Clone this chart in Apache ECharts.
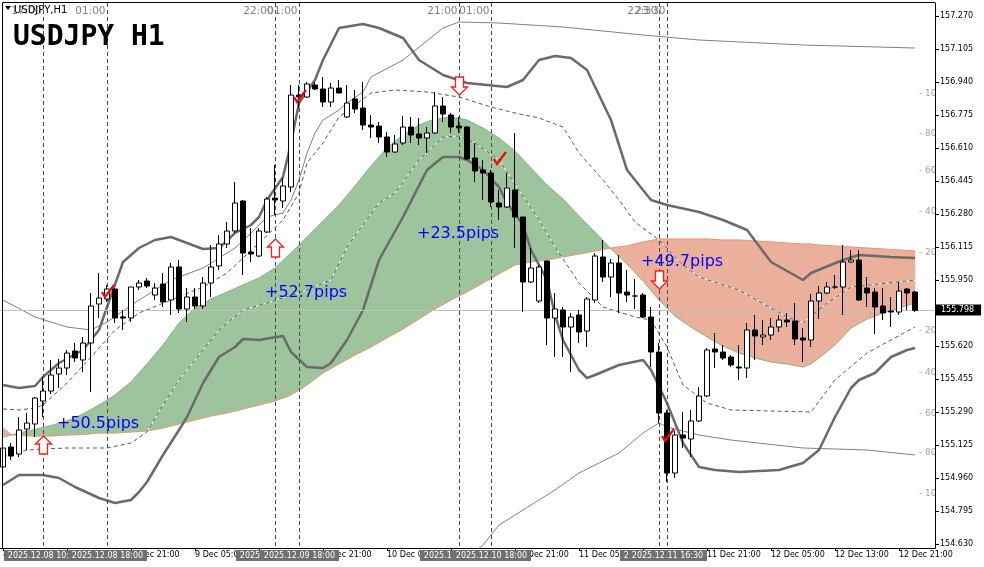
<!DOCTYPE html>
<html><head><meta charset="utf-8">
<script src="https://cdn.jsdelivr.net/npm/echarts@6/dist/echarts.min.js"></script>
<style>html,body{margin:0;padding:0;background:#fff;}#c{width:984px;height:567px;}</style>
</head><body><div id="c"></div>
<script>
// ---------- DATA ----------
const openP = [155.015,155.115,155.080,155.205,155.230,155.345,155.395,155.480,155.510,155.595,
155.550,155.635,155.830,155.855,155.905,155.765,155.760,155.915,155.945,155.875,
155.930,155.850,156.015,155.805,155.865,155.820,155.935,156.020,156.130,156.195,
156.345,156.090,156.070,156.190,156.360,156.345,156.415,156.875,156.865,156.925,
156.905,156.840,156.910,156.765,156.855,156.810,156.725,156.720,156.665,156.590,
156.635,156.715,156.680,156.660,156.685,156.820,156.775,156.720,156.715,156.560,
156.500,156.485,156.335,156.315,156.400,156.265,155.940,155.845,156.045,155.760,
155.800,155.715,155.775,155.695,155.850,156.065,155.965,156.035,155.890,155.870,
155.875,155.765,155.590,155.285,154.985,155.175,155.155,155.245,155.370,155.605,
155.590,155.565,155.515,155.510,155.700,155.665,155.675,155.715,155.750,155.745,
155.660,155.650,155.845,155.885,155.915,155.915,156.040,156.050,155.910,155.890,
155.820,155.795,155.790,155.905,155.890];
const closeP = [155.110,155.070,155.200,155.235,155.360,155.395,155.475,155.510,155.585,155.560,
155.635,155.820,155.860,155.905,155.760,155.760,155.915,155.935,155.920,155.910,
155.840,156.015,155.805,155.865,155.820,155.935,156.015,156.130,156.195,156.335,
156.085,156.080,156.195,156.355,156.350,156.420,156.875,156.865,156.930,156.905,
156.840,156.910,156.885,156.835,156.805,156.725,156.715,156.665,156.590,156.630,
156.715,156.675,156.660,156.685,156.820,156.780,156.715,156.710,156.555,156.495,
156.485,156.340,156.315,156.410,156.265,155.940,156.010,156.015,155.760,155.805,
155.715,155.765,155.690,155.855,156.070,155.965,156.035,155.885,155.875,155.870,
155.765,155.590,155.285,154.985,155.175,155.160,155.245,155.370,155.600,155.590,
155.560,155.525,155.510,155.700,155.670,155.675,155.715,155.750,155.740,155.655,
155.650,155.845,155.885,155.915,155.915,156.040,156.050,155.850,155.885,155.815,
155.785,155.790,155.895,155.885,155.798];
const lowP = [154.975,155.050,155.065,155.100,155.165,155.265,155.380,155.410,155.475,155.540,
155.490,155.390,155.760,155.840,155.735,155.700,155.740,155.900,155.910,155.850,
155.815,155.775,155.785,155.740,155.805,155.805,155.865,156.000,156.110,156.185,
155.975,156.040,156.065,156.185,156.275,156.310,156.390,156.810,156.860,156.900,
156.815,156.815,156.885,156.760,156.785,156.700,156.660,156.635,156.565,156.585,
156.625,156.635,156.625,156.585,156.680,156.740,156.685,156.685,156.550,156.440,
156.350,156.315,156.250,156.310,156.110,155.790,155.935,155.835,155.625,155.565,
155.565,155.490,155.635,155.615,155.835,155.940,155.865,155.785,155.840,155.805,
155.760,155.515,155.235,154.940,154.960,155.110,155.065,155.240,155.365,155.510,
155.550,155.515,155.450,155.460,155.550,155.625,155.650,155.690,155.715,155.625,
155.540,155.615,155.755,155.880,155.905,155.775,156.035,155.845,155.815,155.680,
155.750,155.715,155.775,155.800,155.790];
const highP = [155.125,155.135,155.265,155.285,155.365,155.465,155.550,155.555,155.600,155.635,
155.665,155.885,155.985,155.925,155.910,155.800,155.915,155.950,155.960,155.935,
155.985,156.035,156.050,155.910,155.910,155.965,156.125,156.175,156.240,156.440,
156.350,156.210,156.210,156.365,156.525,156.460,156.925,156.925,156.940,156.940,
156.965,156.935,156.950,156.925,156.900,156.940,156.775,156.740,156.690,156.675,
156.770,156.765,156.760,156.715,156.890,156.865,156.785,156.765,156.720,156.635,
156.550,156.500,156.400,156.485,156.685,156.265,156.110,156.025,156.045,155.885,
155.815,155.785,155.800,155.865,156.085,156.150,156.055,156.075,156.000,155.955,
155.885,155.815,155.635,155.300,155.195,155.290,155.300,155.415,155.610,155.685,
155.625,155.575,155.625,155.735,155.775,155.750,155.760,155.775,155.785,155.835,
155.710,155.880,155.920,155.940,155.975,156.125,156.100,156.100,155.965,155.910,
155.910,155.865,155.940,155.910,155.895];

// band lines: [bar index, price]
const bandUpper = [[0,155.425],[2,155.410],[4,155.420],[5,155.465],[7,155.535],[10,155.600],[12,155.700],[13,155.815],[15,156.040],[17,156.110],[19,156.150],[21,156.165],[23,156.135],[25,156.105],[27,156.110],[29,156.185],[31,156.225],[32,156.265],[33,156.350],[35,156.465],[36,156.635],[37,156.835],[39,156.950],[40,157.050],[42,157.210],[45,157.230],[47,157.210],[50,157.160],[52,157.050],[55,156.975],[58,156.935],[63,156.915],[65,156.950],[67,157.050],[69,157.070],[71,157.060],[73,157.000],[76,156.750],[78,156.500],[81,156.350],[83,156.325],[87,156.290],[90,156.250],[93,156.200],[96,156.040],[100,155.950],[101,155.985],[105,156.050],[107,156.075],[111,156.065],[114,156.060]];
const bandLower = [[0,154.925],[2,154.975],[5,154.975],[7,154.960],[9,154.915],[12,154.860],[14,154.835],[16,154.850],[17,154.890],[18,154.940],[20,155.075],[22,155.200],[23,155.265],[25,155.435],[27,155.565],[29,155.615],[30,155.655],[32,155.650],[35,155.670],[36,155.590],[38,155.515],[40,155.510],[41,155.535],[43,155.650],[45,155.800],[47,156.050],[50,156.265],[53,156.500],[55,156.565],[57,156.565],[58,156.550],[60,156.500],[62,156.415],[63,156.335],[65,156.225],[66,156.100],[68,155.950],[69,155.775],[70,155.650],[72,155.500],[73,155.460],[74,155.475],[77,155.525],[80,155.550],[81,155.500],[83,155.335],[85,155.135],[87,155.015],[89,155.000],[92,154.990],[97,155.000],[100,155.035],[102,155.100],[104,155.265],[106,155.410],[107,155.450],[109,155.485],[111,155.565],[113,155.600],[114,155.610]];
const outerUpper = [[0,155.850],[4,155.765],[8,155.715],[11,155.700],[13,155.740],[17,155.850],[21,155.950],[25,156.010],[29,156.110],[31,156.185],[33,156.265],[35,156.285],[36,156.350],[37,156.450],[38,156.585],[39,156.685],[40,156.750],[42,156.800],[43,156.835],[45,156.890],[46,156.965],[50,157.050],[55,157.210],[57,157.240],[62,157.235],[70,157.215],[80,157.175],[87,157.150],[100,157.125],[114,157.110]];
const outerLower = [[55,154.450],[60,154.625],[62,154.725],[66,154.825],[69,154.900],[72,154.985],[77,155.085],[80,155.185],[82,155.235],[83,155.215],[87,155.175],[91,155.150],[100,155.110],[108,155.100],[114,155.075]];
const devUpper = [[0,155.305],[2,155.300],[4,155.310],[5,155.325],[8,155.435],[11,155.565],[14,155.700],[17,155.785],[21,155.850],[25,155.915],[28,155.985],[30,156.060],[32,156.135],[35,156.250],[37,156.385],[38,156.535],[40,156.635],[42,156.765],[46,156.885],[49,156.900],[53,156.890],[57,156.865],[61,156.815],[64,156.785],[67,156.760],[70,156.715],[72,156.585],[75,156.450],[77,156.350],[79,156.240],[82,156.150],[85,156.025],[87,155.965],[92,155.900],[98,155.765],[100,155.735],[103,155.835],[106,155.915],[114,155.950]];
const devLower = [[0,155.065],[3,155.100],[5,155.105],[8,155.110],[13,155.110],[16,155.135],[18,155.190],[20,155.325],[22,155.450],[25,155.600],[27,155.700],[30,155.800],[33,155.835],[37,155.885],[41,155.950],[43,156.115],[47,156.335],[49,156.385],[52,156.550],[55,156.665],[57,156.670],[59,156.635],[62,156.550],[67,156.250],[69,156.115],[72,155.935],[75,155.815],[79,155.765],[81,155.750],[83,155.615],[85,155.425],[88,155.335],[91,155.300],[101,155.290],[104,155.450],[108,155.585],[114,155.715]];

// cloud (span A / span B) read at common bars
const cloudIdx = [0,1,2,4,6,8,10,12,14,16,18,20,22,24,26,28,30,32,34,36,38,40,42,44,46,48,50,52,54,56,58,60,62,64,66,68,70,72,74,76,78,80,82,84,86,88,90,92,94,96,98,100,101,102,104,106,108,110,112,114];
const spanA = [155.165,155.175,155.185,155.2025,155.2225,155.245,155.280,155.325,155.375,155.440,155.530,155.625,155.735,155.810,155.855,155.890,155.925,155.960,156.010,156.085,156.165,156.245,156.325,156.420,156.520,156.610,156.675,156.725,156.755,156.765,156.750,156.710,156.660,156.595,156.510,156.425,156.355,156.270,156.190,156.105,156.030,155.945,155.850,155.770,155.715,155.665,155.620,155.585,155.560,155.540,155.530,155.515,155.530,155.560,155.625,155.710,155.755,155.785,155.810,155.835];
const spanB = [155.210,155.177,155.1725,155.170,155.170,155.175,155.1775,155.185,155.185,155.190,155.195,155.210,155.230,155.250,155.270,155.285,155.305,155.325,155.345,155.375,155.425,155.485,155.530,155.575,155.615,155.660,155.705,155.755,155.805,155.850,155.890,155.935,155.980,156.025,156.040,156.050,156.065,156.080,156.095,156.110,156.120,156.140,156.155,156.155,156.155,156.155,156.150,156.150,156.145,156.140,156.135,156.130,156.130,156.125,156.120,156.115,156.110,156.105,156.100,156.095];

// vertical lines
const vIdx = [5,13,34,37,57,61,82,83];
const vTop = ['17:00','01:00','22:00','01:00','21:00','01:00','22:30','23:30'];
const vBottom = ['2025.12.08 10:00','2025.12.08 18:00','2025.12.09 15:00','2025.12.09 18:00','2025.12.10 14:00','2025.12.10 18:00','2025.12.11 15:30','2025.12.11 16:30'];

// markers
const arrows = [[5,155.170,1],[34,156.155,1],[57,156.875,-1],[82,155.905,-1]];
const checks = [[13,155.890],[37,156.865],[62,156.555],[83,155.170]];
const pipLabels = ['+50.5pips','+52.7pips','+23.5pips','+49.7pips'];
const pipPos = [[7,155.230],[33,155.885],[52,156.180],[80,156.040]];
const sideText = ['10','80','60','40','20','20','40','60','80','10'];
const sidePrice = [156.880,156.680,156.495,156.290,156.085,155.695,155.485,155.280,155.085,154.880];

const yTicks = [154.630,154.795,154.960,155.125,155.290,155.455,155.620,155.950,156.115,156.280,156.445,156.610,156.775,156.940,157.105,157.270];
const xTickIdx = [0,8,16,24,32,40,48,56,64,72,80,88,96,104,112];
const lastPrice = 155.798;

// hourly categories (8 Dec 05:00 onward) + 2 empty slots of right shift
const categories = [];
for (let i = 0; i < 117; i++) { const h = 5 + i; categories.push((8 + Math.floor(h / 24)) + ' Dec ' + String(h % 24).padStart(2, '0') + ':00'); }

// ---------- CHART ----------
const GREEN = '#9dc49d', SALMON = '#ebb09b';
const candleData = openP.map((o, i) => [o, closeP[i], lowP[i], highP[i]]);
const cloudData = [];
for (let k = 0; k < cloudIdx.length - 1; k++) cloudData.push([cloudIdx[k], spanA[k], spanB[k], cloudIdx[k+1], spanA[k+1], spanB[k+1]]);

function cloudRender(params, api) {
  const i0 = api.value(0), a0 = api.value(1), b0 = api.value(2), i1 = api.value(3), a1 = api.value(4), b1 = api.value(5);
  const A0 = api.coord([i0, a0]), B0 = api.coord([i0, b0]), A1 = api.coord([i1, a1]), B1 = api.coord([i1, b1]);
  const d0 = a0 - b0, d1 = a1 - b1;
  const poly = (pts, c) => ({ type: 'polygon', shape: { points: pts }, style: { fill: c, stroke: c, lineWidth: 0.6 } });
  if (d0 * d1 >= 0) return poly([A0, A1, B1, B0], (d0 + d1) >= 0 ? GREEN : SALMON);
  const t = d0 / (d0 - d1);
  const C = [A0[0] + (A1[0] - A0[0]) * t, A0[1] + (A1[1] - A0[1]) * t];
  return { type: 'group', children: [poly([A0, C, B0], d0 > 0 ? GREEN : SALMON), poly([C, A1, B1], d1 > 0 ? GREEN : SALMON)] };
}
function vlineRender(params, api) {
  const k = params.dataIndex, cs = params.coordSys;
  const x = Math.round(api.coord([api.value(0), 155])[0]) + 0.5;
  const yb = cs.y + cs.height;
  return { type: 'group', children: [
    { type: 'line', shape: { x1: x, y1: cs.y, x2: x, y2: yb }, style: { stroke: '#4a4a4a', lineWidth: 1, lineDash: [4, 3] } },
    { type: 'text', x: x - 2, y: cs.y + 8, style: { text: vTop[k], fill: '#808080', font: '10.5px "DejaVu Sans"', align: 'right', verticalAlign: 'middle' } },
    { type: 'rect', shape: { x: x - 39.5, y: yb + 2, width: 79, height: 11 }, style: { fill: '#707070' } },
    { type: 'text', x: x, y: yb + 7.5, style: { text: vBottom[k], fill: '#ffffff', font: '8px "DejaVu Sans"', align: 'center', verticalAlign: 'middle' } }
  ]};
}
function arrowRender(params, api) {
  const p = api.coord([api.value(0), api.value(1)]), s = api.value(2);
  const x = Math.round(p[0]) + 0.5, y = p[1];
  const pts = [[0,0],[8,8],[4,8],[4,18],[-4,18],[-4,8],[-8,8]].map(q => [x + q[0], y + q[1] * s]);
  return { type: 'polygon', shape: { points: pts }, style: { fill: '#ffffff', stroke: '#ff1a1a', lineWidth: 1.3 } };
}
function checkRender(params, api) {
  const p = api.coord([api.value(0), api.value(1)]);
  return { type: 'polyline', shape: { points: [[p[0]-5, p[1]], [p[0]-2, p[1]+5], [p[0]+7, p[1]-7]] }, style: { stroke: '#ff0000', lineWidth: 2.2, fill: null } };
}
function pipRender(params, api) {
  const p = api.coord([api.value(0), api.value(1)]);
  return { type: 'text', x: p[0] - 2, y: p[1], style: { text: pipLabels[params.dataIndex], fill: '#0000ff', font: '16px "DejaVu Sans"', align: 'left', verticalAlign: 'middle' } };
}
function sideRender(params, api) {
  const cs = params.coordSys, p = api.coord([0, api.value(1)]);
  return { type: 'text', x: cs.x + cs.width - 16, y: p[1], style: { text: '- ' + sideText[params.dataIndex], fill: '#a0a0a0', font: '9px "DejaVu Sans"', align: 'left', verticalAlign: 'middle' } };
}
const lineS = (data, color, width, type, z) => ({ type: 'line', data: data, symbol: 'none', silent: true, z: z, lineStyle: { color: color, width: width, type: type }, emphasis: { disabled: true } });

const chart = echarts.init(document.getElementById('c'), null, { renderer: 'canvas', width: 984, height: 567 });
chart.setOption({
  animation: false,
  backgroundColor: '#ffffff',
  grid: { left: -1, right: 49, top: 3, bottom: 19, containLabel: false, outerBoundsMode: 'none' },
  xAxis: {
    type: 'category', data: categories, boundaryGap: true,
    axisLine: { show: true, lineStyle: { color: '#000', width: 1 } },
    axisTick: { show: true, alignWithLabel: true, length: 3, interval: (i) => xTickIdx.includes(i), lineStyle: { color: '#000' } },
    axisLabel: { interval: (i) => xTickIdx.includes(i), align: 'left', margin: 3, color: '#000', fontSize: 8, fontFamily: 'DejaVu Sans' },
    splitLine: { show: false }
  },
  yAxis: {
    type: 'value', position: 'right', min: 154.61, max: 157.335,
    axisLine: { show: true, lineStyle: { color: '#000', width: 1 } },
    axisTick: { show: true, length: 4, customValues: yTicks, lineStyle: { color: '#000' } },
    axisLabel: { customValues: yTicks, formatter: (v) => v.toFixed(3), margin: 5, color: '#000', fontSize: 8, fontFamily: 'DejaVu Sans' },
    splitLine: { show: false }
  },
  series: [
    { type: 'custom', renderItem: cloudRender, data: cloudData, silent: true, z: 1, clip: true },
    lineS(cloudIdx.map((x, k) => [x, spanB[k]]), '#ee9777', 1, 'solid', 2),
    lineS(cloudIdx.map((x, k) => [x, spanA[k]]), '#86b886', 1, 'solid', 2),
    lineS(devUpper, '#ffffff', 1, 'solid', 3),
    lineS(devLower, '#ffffff', 1, 'solid', 3),
    lineS(devUpper, '#5a5a5a', 1, [4, 3], 3),
    lineS(devLower, '#5a5a5a', 1, [4, 3], 3),
    lineS(outerUpper, '#808080', 1, 'solid', 3),
    lineS(outerLower, '#808080', 1, 'solid', 3),
    lineS(bandUpper, '#6a6a6a', 2.5, 'solid', 3),
    lineS(bandLower, '#6a6a6a', 2.5, 'solid', 3),
    { type: 'custom', renderItem: vlineRender, data: vIdx.map(i => [i, 155]), silent: true, z: 4, clip: false },
    {
      type: 'candlestick', data: candleData, barWidth: 5, z: 5, silent: true,
      itemStyle: { color: '#ffffff', color0: '#000000', borderColor: '#000000', borderColor0: '#000000', borderWidth: 1 },
      markLine: {
        symbol: ['none', 'none'], silent: true, animation: false,
        data: [{ yAxis: lastPrice }],
        lineStyle: { color: '#c0c0c0', type: 'solid', width: 1 },
        label: { show: true, position: 'end', distance: 1, formatter: () => lastPrice.toFixed(3), backgroundColor: '#000', color: '#fff', padding: [2, 7, 1, 5], fontSize: 8, fontFamily: 'DejaVu Sans' }
      }
    },
    { type: 'custom', renderItem: arrowRender, data: arrows, silent: true, z: 6, clip: false },
    { type: 'custom', renderItem: checkRender, data: checks, silent: true, z: 6, clip: false },
    { type: 'custom', renderItem: pipRender, data: pipPos, silent: true, z: 7, clip: false },
    { type: 'custom', renderItem: sideRender, data: sidePrice.map(p => [0, p]), silent: true, z: 7, clip: true }
  ],
  graphic: [
    { type: 'line', z: 100, shape: { x1: 2.5, y1: 2.5, x2: 935, y2: 2.5 }, style: { stroke: '#000', lineWidth: 1 } },
    { type: 'line', z: 100, shape: { x1: 2.5, y1: 2.5, x2: 2.5, y2: 548 }, style: { stroke: '#000', lineWidth: 1 } },
    { type: 'polygon', z: 100, shape: { points: [[5, 6], [11, 6], [8, 10]] }, style: { fill: '#000' } },
    { type: 'text', z: 100, x: 14, y: 10, style: { text: 'USDJPY,H1', font: '10px "DejaVu Sans"', fill: '#000', verticalAlign: 'middle' } },
    { type: 'text', z: 100, x: 13, y: 38, style: { text: 'USDJPY H1', font: 'bold 28px "DejaVu Sans Mono"', fill: '#000', verticalAlign: 'middle' } }
  ]
});
</script>
</body></html>
